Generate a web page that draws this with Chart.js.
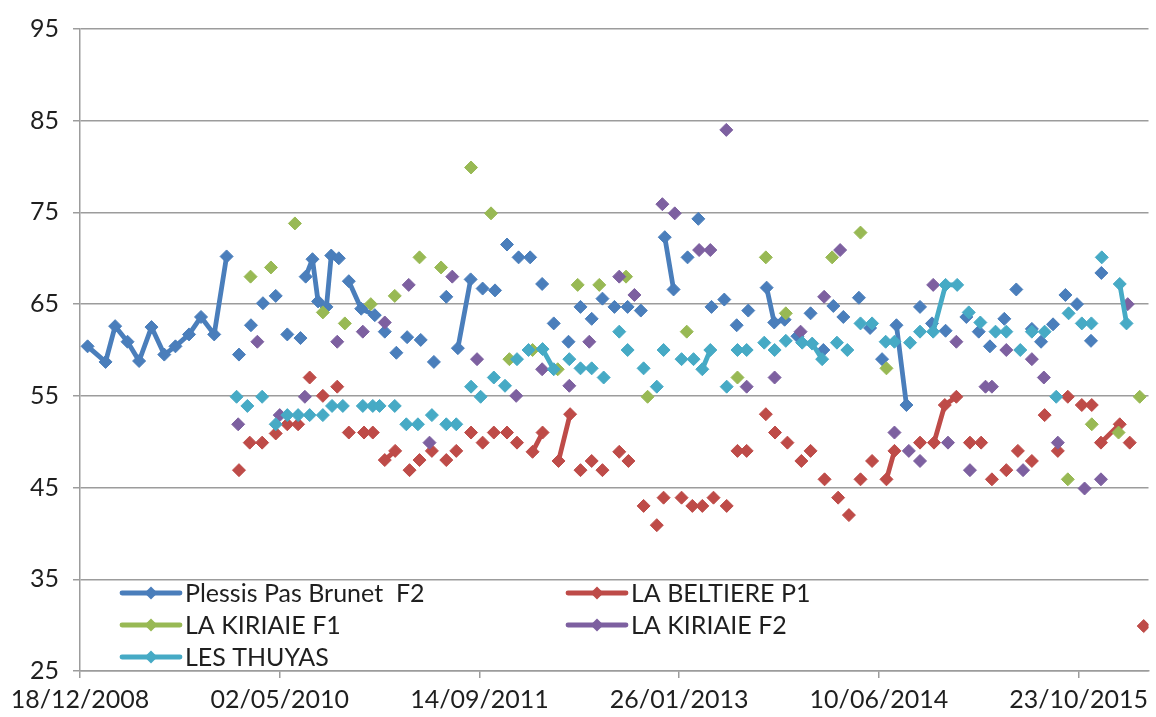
<!DOCTYPE html>
<html>
<head>
<meta charset="utf-8">
<title>Suivi des forages</title>
<script src="https://cdn.jsdelivr.net/npm/chart.js@4.4.1/dist/chart.umd.min.js"></script>
<style>
  html, body { margin: 0; padding: 0; background: #ffffff; }
  canvas { display: block; }
</style>
</head>
<body>
<canvas id="chart" width="1156" height="717"></canvas>
<script>
// x values are days counted from 18/12/2008 (start of the date axis)
const xTickDays = [0, 500, 1000, 1500, 2000, 2500];
const xTickLabels = ['18/12/2008', '02/05/2010', '14/09/2011', '26/01/2013', '10/06/2014', '23/10/2015'];
const yTicks = [25, 35, 45, 55, 65, 75, 85, 95];

const seriesNames = ['Plessis Pas Brunet  F2', 'LA BELTIERE P1', 'LA KIRIAIE F1', 'LA KIRIAIE F2', 'LES THUYAS'];
const seriesColors = ['#4A7EBB', '#BE4B48', '#98B954', '#7D60A0', '#46AAC5'];

const plessisDays = [19, 64, 88, 119, 148, 179, 211, 239, 273, 303, 336, 367,
  398, 428, 458, 490, 519, 552,
  565, 582, 596, 617, 629, 648,
  673, 704, 738,
  763, 792, 819, 853, 886, 917,
  946, 978,
  1008, 1039, 1069, 1098, 1127, 1157, 1186, 1223, 1253, 1281, 1308, 1338, 1371, 1404,
  1464, 1486,
  1521, 1548, 1581, 1613, 1644, 1673,
  1719, 1738, 1764,
  1796, 1829, 1861, 1886, 1911, 1950, 1978, 2008,
  2044, 2069,
  2103, 2133, 2167, 2219, 2250, 2278, 2314, 2344, 2383, 2406, 2436, 2467, 2496, 2531, 2557];
const plessisValues = [60.4, 58.7, 62.6, 60.9, 58.8, 62.5, 59.5, 60.4, 61.7, 63.6, 61.7, 70.2,
  59.5, 62.7, 65.1, 65.9, 61.7, 61.3,
  68.0, 69.9, 65.3, 64.7, 70.3, 70.0,
  67.5, 64.5, 63.8,
  62.0, 59.7, 61.4, 61.1, 58.7, 65.8,
  60.2, 67.7,
  66.7, 66.5, 71.5, 70.1, 70.1, 67.2, 62.9, 60.9, 64.7, 63.4, 65.6, 64.7, 64.7, 64.3,
  72.3, 66.6,
  70.1, 74.3, 64.7, 65.5, 62.7, 64.3,
  66.8, 63.0, 63.3,
  61.5, 64.0, 60.0, 64.8, 63.6, 65.7, 62.4, 59.0,
  62.7, 54.0,
  64.7, 62.9, 62.1, 63.6, 62.0, 60.4, 63.4, 66.6, 62.3, 60.9, 62.8, 66.0, 65.0, 61.0, 68.4];
// day ranges where consecutive measures are joined by a line
const plessisJoined = [[19, 367], [565, 648], [673, 738], [946, 978], [1464, 1486], [1719, 1764], [2044, 2069]];

const beltiereDays = [398, 425, 456, 490, 519, 546, 575, 608, 644, 673,
  711, 733, 763, 789, 825, 850, 881, 917, 942, 979,
  1008, 1036, 1069, 1094, 1133, 1158, 1198, 1227, 1253, 1281,
  1308, 1350, 1373, 1411, 1444, 1461, 1506, 1533, 1558, 1586,
  1619, 1646, 1669, 1717, 1740, 1771, 1806, 1829, 1864, 1898,
  1925, 1954, 1983, 2019, 2039, 2103, 2138, 2165, 2194, 2228,
  2256, 2283, 2319, 2348, 2383, 2415, 2448, 2473, 2508, 2533,
  2556, 2603, 2628, 2663];
const beltiereValues = [46.9, 49.9, 49.9, 50.9, 51.9, 51.9, 57.0, 55.0, 56.0, 51.0,
  51.0, 51.0, 48.0, 49.0, 46.9, 48.0, 49.0, 48.0, 49.0, 51.0,
  49.9, 51.0, 51.0, 49.9, 48.9, 51.0, 47.9, 53.0, 46.9, 47.9,
  46.9, 48.9, 47.9, 43.0, 40.9, 43.9, 43.9, 43.0, 43.0, 43.9,
  43.0, 49.0, 49.0, 53.0, 51.0, 49.9, 47.9, 49.0, 45.9, 43.9,
  42.0, 45.9, 47.9, 45.9, 49.0, 49.9, 49.9, 54.0, 54.9, 49.9,
  49.9, 45.9, 46.9, 49.0, 47.9, 52.9, 49.0, 54.9, 54.0, 54.0,
  49.9, 51.9, 49.9, 29.9];
const beltiereJoined = [[763, 789], [1133, 1158], [1198, 1227], [2019, 2039], [2138, 2194], [2556, 2603]];

const kiriaieF1Days = [427, 478, 538, 608, 663, 728, 788, 850, 904, 979,
  1029, 1075, 1133, 1196, 1246, 1300, 1367, 1421, 1519, 1646,
  1717, 1767, 1883, 1954, 2019, 2473, 2533, 2600, 2653];
const kiriaieF1Values = [68.0, 69.0, 73.8, 64.1, 62.9, 65.0, 65.9, 70.1, 69.0, 79.9,
  74.9, 59.0, 60.0, 57.9, 67.1, 67.1, 68.0, 54.9, 62.0, 57.0,
  70.1, 64.0, 70.1, 72.8, 58.0, 45.9, 51.9, 51.0, 54.9];
const kiriaieF1Joined = [];

const kiriaieF2Days = [396, 444, 500, 563, 644, 708, 763, 823, 875, 932,
  994, 1092, 1157, 1225, 1275, 1350, 1388, 1458, 1489, 1550,
  1578, 1618, 1669, 1739, 1804, 1863, 1903, 2039, 2075, 2103,
  2136, 2173, 2194, 2228, 2267, 2283, 2319, 2361, 2383, 2413,
  2448, 2515, 2556, 2623];
const kiriaieF2Values = [51.9, 60.9, 52.9, 54.9, 60.9, 62.0, 63.0, 67.1, 49.9, 68.0,
  59.0, 55.0, 57.9, 56.1, 60.9, 68.0, 66.0, 75.9, 74.9, 70.9,
  70.9, 84.0, 56.0, 57.0, 62.0, 65.8, 70.9, 51.0, 49.0, 47.9,
  67.1, 49.9, 60.9, 46.9, 56.0, 56.0, 60.0, 46.9, 59.0, 57.0,
  49.9, 44.9, 45.9, 65.0];
const kiriaieF2Joined = [];

const thuyasDays = [392, 419, 456, 490, 519, 546, 575, 608, 631, 658,
  708, 733, 750, 788, 817, 846, 881, 917, 942, 979,
  1003, 1036, 1064, 1094, 1123, 1158, 1186, 1225, 1253, 1281,
  1311, 1350, 1371, 1411, 1444, 1461, 1506, 1536, 1558, 1578,
  1619, 1646, 1669, 1713, 1739, 1767, 1808, 1833, 1858, 1895,
  1921, 1954, 1983, 2017, 2039, 2078, 2103, 2136, 2167, 2196,
  2225, 2254, 2292, 2319, 2354, 2383, 2415, 2444, 2475, 2508,
  2532, 2558, 2603, 2620];
const thuyasValues = [54.9, 53.9, 54.9, 51.9, 52.9, 52.9, 52.9, 52.9, 53.9, 53.9,
  53.9, 53.9, 53.9, 53.9, 51.9, 51.9, 52.9, 51.9, 51.9, 56.0,
  54.9, 57.0, 56.1, 59.0, 60.0, 60.1, 57.9, 59.0, 58.0, 58.0,
  57.0, 62.0, 60.0, 58.0, 56.0, 60.0, 59.0, 59.0, 57.9, 60.0,
  56.0, 60.0, 60.0, 60.8, 60.0, 61.0, 60.8, 60.7, 59.0, 60.8,
  60.0, 62.9, 62.9, 60.9, 60.9, 60.8, 62.0, 62.0, 67.1, 67.1,
  64.1, 63.0, 62.0, 62.0, 60.0, 62.0, 62.0, 54.9, 64.0, 62.9,
  62.9, 70.1, 67.2, 62.9];
const thuyasJoined = [[1158, 1186], [1558, 1578], [1808, 1858], [2136, 2196], [2603, 2620]];

const textColor = '#1f1f1f';
const gridColor = '#9c9c9c';
const fontFamily = 'Lato, "Liberation Sans", sans-serif';

// points; a null point breaks the line between measures that are not joined
function buildPoints(days, values, joined) {
  const pts = [];
  for (let i = 0; i < days.length; i++) {
    pts.push({ x: days[i], y: values[i] });
    if (i === days.length - 1) break;
    const next = days[i + 1];
    const linked = joined.some(r => days[i] >= r[0] && next <= r[1]);
    if (!linked) pts.push({ x: (days[i] + next) / 2, y: null });
  }
  return pts;
}

function makeDataset(idx, days, values, joined) {
  const color = seriesColors[idx];
  return {
    label: seriesNames[idx],
    data: buildPoints(days, values, joined),
    borderColor: color,
    backgroundColor: color,
    borderWidth: 4.8,
    borderCapStyle: 'round',
    borderJoinStyle: 'round',
    pointStyle: 'rectRot',
    pointRadius: 6.5,
    pointBorderWidth: 1,
    pointBackgroundColor: color,
    pointBorderColor: color,
    spanGaps: false,
    order: 5 - idx
  };
}

// légende dessinée dans la zone du graphique, 2 colonnes
const insideLegendPlugin = {
  id: 'insideLegend',
  afterDatasetsDraw: (chart) => {
    const ctx = chart.ctx;
    const spots = [[122, 593], [568, 593], [122, 625], [568, 625], [122, 657]];
    ctx.save();
    seriesNames.forEach((name, i) => {
      const [x, y] = spots[i];
      const color = seriesColors[i];
      ctx.strokeStyle = color;
      ctx.lineWidth = 4.8;
      ctx.lineCap = 'round';
      ctx.beginPath();
      ctx.moveTo(x, y);
      ctx.lineTo(x + 58, y);
      ctx.stroke();

      const cx = x + 29;
      ctx.fillStyle = color;
      ctx.beginPath();
      ctx.moveTo(cx - 6.5, y);
      ctx.lineTo(cx, y - 6.5);
      ctx.lineTo(cx + 6.5, y);
      ctx.lineTo(cx, y + 6.5);
      ctx.closePath();
      ctx.fill();

      ctx.font = '25px ' + fontFamily;
      ctx.textAlign = 'left';
      ctx.textBaseline = 'middle';
      ctx.fillStyle = textColor;
      ctx.fillText(name, x + 63, y + 1);
    });
    ctx.restore();
  }
};

window.addEventListener('DOMContentLoaded', () => {
  const ctx = document.getElementById('chart').getContext('2d');
  new Chart(ctx, {
    type: 'line',
    data: {
      datasets: [
        makeDataset(0, plessisDays, plessisValues, plessisJoined),
        makeDataset(1, beltiereDays, beltiereValues, beltiereJoined),
        makeDataset(2, kiriaieF1Days, kiriaieF1Values, kiriaieF1Joined),
        makeDataset(3, kiriaieF2Days, kiriaieF2Values, kiriaieF2Joined),
        makeDataset(4, thuyasDays, thuyasValues, thuyasJoined)
      ]
    },
    options: {
      responsive: false,
      animation: false,
      devicePixelRatio: 1,
      layout: { padding: { top: 23, right: 6, left: 0, bottom: 0 } },
      plugins: {
        legend: { display: false },
        tooltip: { enabled: false }
      },
      scales: {
        x: {
          type: 'linear',
          min: 0,
          max: 2675,
          afterBuildTicks: (scale) => { scale.ticks = xTickDays.map(v => ({ value: v })); },
          afterFit: (scale) => { scale.height = 46; },
          ticks: {
            autoSkip: false,
            maxRotation: 0,
            padding: 7,
            color: textColor,
            font: { family: fontFamily, size: 25 },
            callback: (value, index) => xTickLabels[index]
          },
          grid: { drawOnChartArea: false, drawTicks: true, tickLength: 7, color: gridColor, lineWidth: 1.5 },
          border: { display: true, color: gridColor, width: 1.5 }
        },
        y: {
          min: 25,
          max: 95,
          afterBuildTicks: (scale) => { scale.ticks = yTicks.map(v => ({ value: v })); },
          afterFit: (scale) => { scale.width = 80; },
          ticks: {
            padding: 14,
            color: textColor,
            font: { family: fontFamily, size: 25 }
          },
          grid: { color: gridColor, lineWidth: 1.5, tickLength: 7 },
          border: { display: true, color: gridColor, width: 1.5 }
        }
      }
    },
    plugins: [insideLegendPlugin]
  });
});
</script>
</body>
</html>
